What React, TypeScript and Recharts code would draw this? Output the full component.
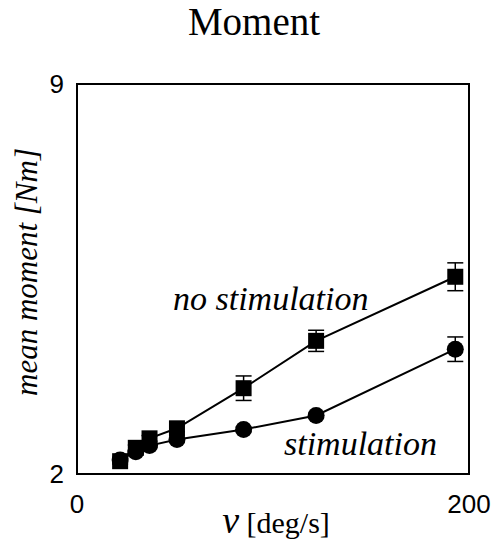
import { LineChart, Line, XAxis, YAxis, ErrorBar, ReferenceArea } from 'recharts'

// angular velocity [deg/s]
const speeds = [22, 30, 37, 51, 85, 122, 193]
// mean moment [Nm], no stimulation (squares)
const noStimMoment = [2.23, 2.47, 2.64, 2.82, 3.54, 4.39, 5.54]
const noStimErr = [0.05, 0.05, 0.05, 0.06, 0.22, 0.19, 0.25]
// mean moment [Nm], stimulation (circles)
const stimMoment = [2.25, 2.4, 2.51, 2.62, 2.8, 3.05, 4.24]
const stimErr = [0.03, 0.03, 0.03, 0.04, 0.04, 0.04, 0.22]

const xTicks = [0, 200]
const yTicks = [2, 9]

const serif = '"Liberation Serif", "Times New Roman", serif'
const sans = '"Liberation Sans", Arial, sans-serif'

const data = speeds.map((v, i) => ({
  v,
  noStim: noStimMoment[i],
  noStimErr: noStimErr[i],
  stim: stimMoment[i],
  stimErr: stimErr[i],
}))

const SquareDot = (props: any) => {
  const { cx, cy, index } = props
  if (cx == null || cy == null) return null
  return <rect key={`sq-${index}`} x={cx - 8} y={cy - 8} width={16} height={16} fill="#000" />
}

const CircleDot = (props: any) => {
  const { cx, cy, index } = props
  if (cx == null || cy == null) return null
  return <circle key={`ci-${index}`} cx={cx} cy={cy} r={8.5} fill="#000" />
}

export default function App() {
  const tick = { fontSize: 26, fill: '#000', fontFamily: sans }
  return (
    <div style={{ position: 'absolute', left: 0, top: 0, width: 495, height: 545, background: '#fff' }}>
      <LineChart
        width={495}
        height={545}
        data={data}
        margin={{ top: 84, right: 26, bottom: 0, left: 0 }}
      >
        <XAxis
          type="number"
          dataKey="v"
          domain={[0, 200]}
          ticks={xTicks}
          axisLine={false}
          tickLine={false}
          tickSize={0}
          tickMargin={21}
          height={71}
          tick={tick}
        />
        <YAxis
          type="number"
          domain={[2, 9]}
          ticks={yTicks}
          axisLine={false}
          tickLine={false}
          tickSize={0}
          tickMargin={13}
          width={77}
          tick={tick}
        />
        <ReferenceArea x1={0} x2={200} y1={2} y2={9} fill="none" stroke="#000" strokeWidth={2} fillOpacity={0} />
        <Line
          dataKey="noStim"
          stroke="#000"
          strokeWidth={2}
          dot={SquareDot}
          activeDot={false}
          isAnimationActive={false}
        >
          <ErrorBar dataKey="noStimErr" width={8} stroke="#000" strokeWidth={1.5} />
        </Line>
        <Line
          dataKey="stim"
          stroke="#000"
          strokeWidth={2}
          dot={CircleDot}
          activeDot={false}
          isAnimationActive={false}
        >
          <ErrorBar dataKey="stimErr" width={8} stroke="#000" strokeWidth={1.5} />
        </Line>
      </LineChart>
      <svg
        width={495}
        height={545}
        style={{ position: 'absolute', left: 0, top: 0, pointerEvents: 'none' }}
      >
        <text x={254} y={35} textAnchor="middle" fontFamily={serif} fontSize={39} fill="#000">
          Moment
        </text>
        <text
          x={37}
          y={272}
          textAnchor="middle"
          fontFamily={serif}
          fontStyle="italic"
          fontSize={31}
          fill="#000"
          transform="rotate(-90 37 272)"
        >
          mean moment [Nm]
        </text>
        <text x={276} y={533} textAnchor="middle" fontFamily={serif} fill="#000">
          <tspan fontStyle="italic" fontSize={38}>v</tspan>
          <tspan fontSize={30}> [deg/s]</tspan>
        </text>
        <text x={173} y={310} fontFamily={serif} fontStyle="italic" fontSize={34} fill="#000">
          no stimulation
        </text>
        <text x={284} y={455} fontFamily={serif} fontStyle="italic" fontSize={34} fill="#000">
          stimulation
        </text>
      </svg>
    </div>
  )
}
